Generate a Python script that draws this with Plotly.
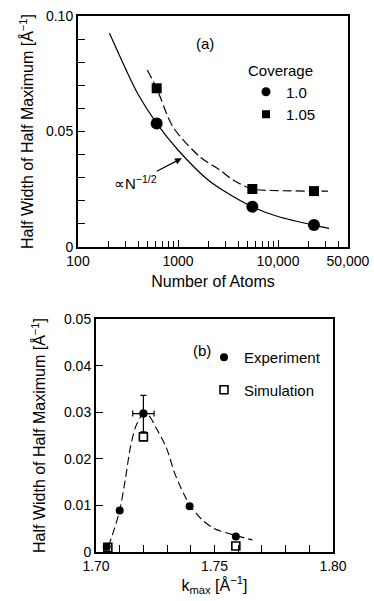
import plotly.graph_objects as go

# ---------------- Panel (a) data ----------------
atoms_cov10 = [612, 5540, 22900]
hwhm_cov10 = [0.0535, 0.0174, 0.0095]
atoms_cov105 = [612, 5540, 22900]
hwhm_cov105 = [0.0687, 0.0251, 0.0242]

fit10_atoms = [206, 300, 400, 612, 1000, 2000, 3000, 5540, 10000, 22900, 32400]
fit10_hwhm = [0.0926, 0.077, 0.066, 0.0535, 0.042, 0.029, 0.0238, 0.0174, 0.0132, 0.0094, 0.0081]
fit105_atoms = [493, 612, 890, 1660, 2630, 3560, 5540, 10000, 22900, 31600]
fit105_hwhm = [0.0766, 0.0687, 0.052, 0.039, 0.0333, 0.029, 0.0251, 0.0244, 0.0242, 0.0242]

a_xtick_vals = [100, 1000, 10000, 50000]
a_xtick_text = ["100", "1000", "10,000", "50,000"]
a_xminor_vals = [200, 300, 400, 500, 600, 700, 800, 900,
                 2000, 3000, 4000, 5000, 6000, 7000, 8000, 9000,
                 20000, 30000, 40000]
a_ytick_vals = [0, 0.05, 0.10]
a_ytick_text = ["0", "0.05", "0.10"]

# ---------------- Panel (b) data ----------------
k_exp = [1.7045, 1.71, 1.72, 1.7395, 1.759]
hwhm_exp = [0.0011, 0.0089, 0.0297, 0.0098, 0.0033]
k_err_peak = 0.0045
hwhm_err_peak = 0.0039
peak_index = 2
k_sim = [1.705, 1.72, 1.759]
hwhm_sim = [0.001, 0.0247, 0.0013]

k_curve = [1.7052, 1.7067, 1.71, 1.7125, 1.7145, 1.7168, 1.7195, 1.7222,
           1.7255, 1.7296, 1.7335, 1.7395, 1.745, 1.75, 1.759, 1.766]
hwhm_curve = [0.0012, 0.0033, 0.0089, 0.016, 0.0225, 0.027, 0.0294, 0.0293,
              0.0265, 0.0225, 0.0165, 0.0101, 0.0068, 0.005, 0.0035, 0.0026]

b_xtick_vals = [1.70, 1.75, 1.80]
b_xtick_text = ["1.70", "1.75", "1.80"]
b_ytick_vals = [0, 0.01, 0.02, 0.03, 0.04, 0.05]
b_ytick_text = ["0", "0.01", "0.02", "0.03", "0.04", "0.05"]

FONT = "Liberation Sans, Arial, Helvetica, sans-serif"
W, H = 374, 601

fig = go.Figure()

# panel (a) curves
fig.add_trace(go.Scatter(x=fit10_atoms, y=fit10_hwhm, mode="lines",
                         line=dict(color="black", width=1.2, shape="spline", smoothing=0.8),
                         showlegend=False, xaxis="x", yaxis="y"))
fig.add_trace(go.Scatter(x=fit105_atoms, y=fit105_hwhm, mode="lines",
                         line=dict(color="black", width=1.2, shape="spline", smoothing=0.8,
                                   dash="9px,4px"),
                         showlegend=False, xaxis="x", yaxis="y"))
fig.add_trace(go.Scatter(x=atoms_cov10, y=hwhm_cov10, mode="markers",
                         marker=dict(symbol="circle", size=12, color="black"),
                         showlegend=False, xaxis="x", yaxis="y"))
fig.add_trace(go.Scatter(x=atoms_cov105, y=hwhm_cov105, mode="markers",
                         marker=dict(symbol="square", size=10, color="black"),
                         showlegend=False, xaxis="x", yaxis="y"))
# legend entries for panel (a)
fig.add_trace(go.Scatter(x=[None], y=[None], mode="markers", name="1.0",
                         marker=dict(symbol="circle", size=9, color="black"),
                         legend="legend", xaxis="x", yaxis="y"))
fig.add_trace(go.Scatter(x=[None], y=[None], mode="markers", name="1.05",
                         marker=dict(symbol="square", size=8, color="black"),
                         legend="legend", xaxis="x", yaxis="y"))

# panel (b)
fig.add_trace(go.Scatter(x=k_curve, y=hwhm_curve, mode="lines",
                         line=dict(color="black", width=1.1, shape="spline", smoothing=0.7,
                                   dash="8px,4px"),
                         showlegend=False, xaxis="x2", yaxis="y2"))
fig.add_trace(go.Scatter(x=[k_exp[peak_index]], y=[hwhm_exp[peak_index]], mode="markers",
                         marker=dict(symbol="circle", size=8, color="black"),
                         error_x=dict(type="constant", value=k_err_peak, color="black",
                                      thickness=1.2, width=3),
                         error_y=dict(type="constant", value=hwhm_err_peak, color="black",
                                      thickness=1.2, width=3),
                         showlegend=False, xaxis="x2", yaxis="y2"))
fig.add_trace(go.Scatter(x=k_sim, y=hwhm_sim, mode="markers", name="Simulation",
                         marker=dict(symbol="square-open", size=8, color="black",
                                     line=dict(width=1.6, color="black")),
                         legend="legend2", legendgroup="sim", legendrank=2,
                         xaxis="x2", yaxis="y2"))
fig.add_trace(go.Scatter(x=k_exp, y=hwhm_exp, mode="markers", name="Experiment",
                         marker=dict(symbol="circle", size=8, color="black"),
                         legend="legend2", legendgroup="exp", legendrank=1,
                         xaxis="x2", yaxis="y2"))

tick_style = dict(ticks="inside", ticklen=7, tickwidth=1, tickcolor="black",
                  showgrid=False, zeroline=False, automargin=False,
                  tickfont=dict(family=FONT, size=14, color="black"))
frame_style = dict(showline=True, linecolor="black", linewidth=2, mirror=True)

a_x0, a_x1, a_y0, a_y1 = 78, 348, 16, 247
b_x0, b_x1, b_y0, b_y1 = 96, 333, 319, 552

a_xdom = [a_x0 / W, a_x1 / W]
a_ydom = [1 - a_y1 / H, 1 - a_y0 / H]
b_xdom = [b_x0 / W, b_x1 / W]
b_ydom = [1 - b_y1 / H, 1 - b_y0 / H]

a_x_ticks = dict(type="log", range=[2, 4.7], tickvals=a_xtick_vals,
                 minor=dict(tickvals=a_xminor_vals, ticks="inside", ticklen=6,
                            tickcolor="black", tickwidth=1))
a_y_ticks = dict(range=[0, 0.10], tickvals=a_ytick_vals,
                 minor=dict(dtick=0.01, ticks="inside", ticklen=7,
                            tickcolor="black", tickwidth=1))
b_x_ticks = dict(range=[1.70, 1.80], tickvals=b_xtick_vals,
                 minor=dict(dtick=0.01, ticks="inside", ticklen=7,
                            tickcolor="black", tickwidth=1))
b_y_ticks = dict(range=[0, 0.05], tickvals=b_ytick_vals)

YTITLE = "Half Width of Half Maximum [Å<sup>−1</sup>]"

fig.update_layout(
    width=W, height=H,
    margin=dict(l=0, r=0, t=0, b=0, autoexpand=False),
    paper_bgcolor="white", plot_bgcolor="white",
    font=dict(family=FONT, size=14, color="black"),
    xaxis=dict(domain=a_xdom, anchor="y", ticktext=a_xtick_text,
               title=dict(text="Number of Atoms", font=dict(family=FONT, size=16), standoff=8),
               **a_x_ticks, **tick_style, **frame_style),
    yaxis=dict(domain=a_ydom, anchor="x", ticktext=a_ytick_text,
               title=dict(text=YTITLE, font=dict(family=FONT, size=16), standoff=8),
               **a_y_ticks, **tick_style, **frame_style),
    xaxis3=dict(domain=a_xdom, anchor="y", overlaying="x", side="top",
                showticklabels=False, **a_x_ticks, **tick_style),
    yaxis3=dict(domain=a_ydom, anchor="x", overlaying="y", side="right",
                showticklabels=False, **a_y_ticks, **tick_style),
    xaxis2=dict(domain=b_xdom, anchor="y2", ticktext=b_xtick_text,
                title=dict(text="k<sub>max</sub> [Å<sup>−1</sup>]",
                           font=dict(family=FONT, size=16), standoff=6),
                **b_x_ticks, **tick_style, **frame_style),
    yaxis2=dict(domain=b_ydom, anchor="x2", ticktext=b_ytick_text,
                title=dict(text=YTITLE, font=dict(family=FONT, size=16), standoff=14),
                **b_y_ticks, **tick_style, **frame_style),
    xaxis4=dict(domain=b_xdom, anchor="y2", overlaying="x2", side="top",
                showticklabels=False, **b_x_ticks, **tick_style),
    yaxis4=dict(domain=b_ydom, anchor="x2", overlaying="y2", side="right",
                showticklabels=False, **b_y_ticks, **tick_style),
    legend=dict(x=246 / W, y=1 - 56 / H, xanchor="left", yanchor="top",
                bgcolor="rgba(0,0,0,0)", borderwidth=0,
                title=dict(text="Coverage", font=dict(family=FONT, size=15)),
                font=dict(family=FONT, size=15), itemwidth=30, tracegroupgap=0),
    legend2=dict(x=204 / W, y=1 - 341 / H, xanchor="left", yanchor="top",
                 bgcolor="rgba(0,0,0,0)", borderwidth=0,
                 font=dict(family=FONT, size=15), itemwidth=30, tracegroupgap=10),
    annotations=[
        dict(text="(a)", x=205 / W, y=1 - 43 / H, xref="paper", yref="paper",
             xanchor="center", yanchor="middle",
             showarrow=False, font=dict(family=FONT, size=15)),
        dict(text="(b)", x=202 / W, y=1 - 350 / H, xref="paper", yref="paper",
             xanchor="center", yanchor="middle",
             showarrow=False, font=dict(family=FONT, size=15)),
        dict(text="∝N<sup>−1/2</sup>", x=3.037, y=0.0384, xref="x", yref="y",
             ax=-46, ay=24, showarrow=True, arrowhead=2, arrowsize=1.1, arrowwidth=1.2,
             arrowcolor="black", standoff=0, font=dict(family=FONT, size=15)),
    ],
)

fig.write_html("out.html",
               config={"displayModeBar": False},
               post_script="document.body.style.margin='0px';"
                           "document.body.style.overflow='hidden';")
